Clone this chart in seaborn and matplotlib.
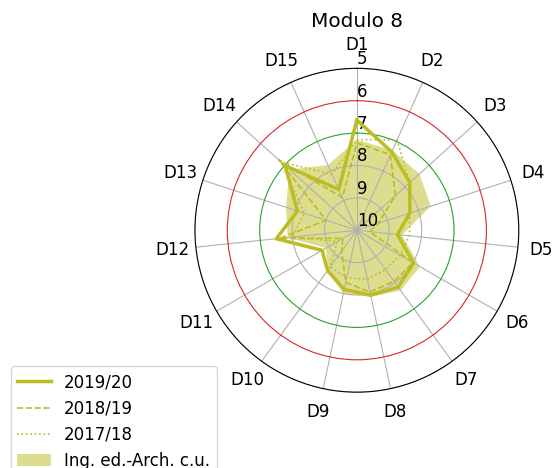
import numpy as np
import pandas as pd
import matplotlib
matplotlib.use('Agg')
import matplotlib.pyplot as plt
import seaborn as sns

# domande D1..D15, voti (scala 5-10, 10 al centro)
labels = ['D%d' % i for i in range(1, 16)]
v_2019 = [6.6, 7.35, 7.8, 8.28, 8.74, 7.98, 7.83, 7.95, 8.13, 8.46, 8.76, 7.5, 8.07, 7.02, 8.62]
v_2018 = [7.3, 7.45, 8.4, 9.3, 9.6, 8.0, 8.05, 8.05, 8.35, 9.2, 9.5, 7.6, 9.0, 6.75, 8.9]
v_2017 = [7.2, 6.95, 7.8, 8.28, 8.37, 8.46, 8.5, 8.45, 8.5, 8.6, 9.3, 8.0, 8.3, 6.85, 8.1]
v_corso = [7.2, 7.3, 7.4, 7.6, 8.6, 7.75, 7.7, 7.9, 8.0, 8.45, 8.9, 7.85, 7.7, 7.2, 7.8]
r_ticks = [5, 6, 7, 8, 9, 10]

colore = '#bcbd22'
plt.rcParams['font.size'] = 12

theta = np.linspace(0, 2 * np.pi, len(labels), endpoint=False)
theta_c = np.append(theta, theta[0] + 2 * np.pi)


def chiudi(v):
    return np.append(v, v[0])


fig = plt.figure(figsize=(5.55, 4.68), dpi=100)
ax = fig.add_axes([0.351, 0.162, 0.584, 0.692], projection='polar')
ax.set_theta_zero_location('N')
ax.set_theta_direction(-1)

sns.lineplot(x=theta_c, y=chiudi(v_2019), ax=ax, sort=False, estimator=None,
             color=colore, linewidth=2.5, linestyle='-', label='2019/20')
sns.lineplot(x=theta_c, y=chiudi(v_2018), ax=ax, sort=False, estimator=None,
             color=colore, linewidth=1.2, linestyle='--', label='2018/19')
sns.lineplot(x=theta_c, y=chiudi(v_2017), ax=ax, sort=False, estimator=None,
             color=colore, linewidth=1.2, linestyle=':', label='2017/18')
ax.fill(theta_c, chiudi(v_corso), color=colore, alpha=0.5, linewidth=0,
        label='Ing. ed.-Arch. c.u.')

ax.set_ylim(10, 5)
ax.set_yticks(r_ticks)
ax.set_yticklabels([str(t) for t in r_ticks])
ax.set_rlabel_position(0)
ax.set_xticks(theta)
ax.set_xticklabels(labels)
ax.tick_params(axis='x', pad=6.5)
ax.set_xlabel('')
ax.set_ylabel('')
ax.grid(True, color='#b0b0b0', linewidth=0.8)
for t, gl in zip(r_ticks, ax.yaxis.get_gridlines()):
    if t == 6:
        gl.set_color('#d62728')
    elif t == 7:
        gl.set_color('#2ca02c')
ax.set_title('Modulo 8', pad=6)

ax.legend(loc='upper left', bbox_to_anchor=(0.004, 0.235), bbox_transform=fig.transFigure)

plt.savefig('out.png', dpi=100)
